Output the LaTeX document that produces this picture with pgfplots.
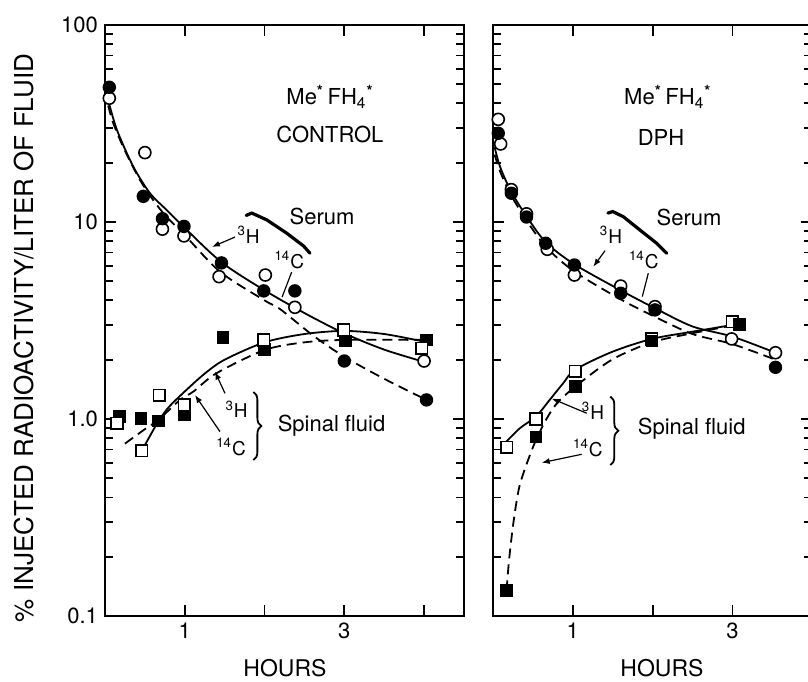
\documentclass[border=0pt]{standalone}
\usepackage{fontspec}
\setmainfont{TeX Gyre Heros}
\usepackage{pgfplots}
\pgfplotsset{compat=1.18}
\usetikzlibrary{arrows.meta,decorations.pathreplacing}
\newcommand{\MeFH}{Me\textsuperscript{\textbf{*}}\,FH\textsubscript{4}\textsuperscript{\textbf{*}}}
\pgfplotsset{
 sol/.style={black, line width=0.9pt, smooth, no marks},
 das/.style={black, line width=0.9pt, smooth, no marks, dash pattern=on 5pt off 3pt},
 fc/.style={only marks, mark=*, mark size=3pt, mark options={draw=black, fill=black, line width=0.7pt}},
 oc/.style={only marks, mark=*, mark size=3pt, mark options={draw=black, fill=white, line width=0.8pt}},
 fs/.style={only marks, mark=square*, mark size=2.9pt, mark options={draw=black, fill=black}},
 os/.style={only marks, mark=square*, mark size=2.9pt, mark options={draw=black, fill=white, line width=0.8pt}},
}
\tikzset{
 lab/.style={font=\fontsize{11}{13}\selectfont},
 iso/.style={font=\fontsize{9.5}{10}\selectfont},
 arr/.style={-{Latex[length=4pt,width=3pt]}, line width=0.6pt},
}
\begin{document}
\begin{tikzpicture}
% ---------------- left panel: CONTROL ----------------
\begin{semilogyaxis}[
  scale only axis, height=295.5pt, width=179.5pt,
  at={(0pt,0pt)}, anchor=south west,
  xmin=0, xmax=4.5, ymin=0.1, ymax=100,
  axis line style={line width=1pt},
  tick style={black, line width=0.9pt},
  tick align=inside,
  major tick length=5.5pt, minor tick length=4pt,
  xtick={1,2,3,4}, xticklabels={1,,3,},
  ytick={0.1,1,10,100}, yticklabels={0.1,1.0,10,100},
  minor ytick={0.2,0.3,0.4,0.5,0.6,0.7,0.8,0.9,2,3,4,5,6,7,8,9,20,30,40,50,60,70,80,90},
  tick label style={font=\fontsize{11}{11}\selectfont},
  clip=false]
\addplot[sol] coordinates {(0.04,41.6) (0.15,29.3) (0.355,19.1) (0.564,14.0) (0.773,11.5) (0.98,9.5) (1.46,6.25) (2.0,4.5) (2.5,3.45) (3.0,2.72) (3.5,2.25) (4.0,1.95)};
\addplot[das] coordinates {(0.04,39) (0.104,31.7) (0.25,23) (0.44,16.3) (0.605,12.9) (0.773,10.6) (0.98,8.76) (1.44,5.6) (2.0,4.0) (2.2,3.6) (2.61,2.65) (3.0,2.07) (3.5,1.6) (4.03,1.25)};
\addplot[black, line width=0.9pt, no marks] coordinates {(0.46,0.69) (0.67,0.98)};
\addplot[sol] coordinates {(0.67,0.98) (0.8,1.15) (1.0,1.38) (1.25,1.7) (1.5,2.0) (2.0,2.45) (2.5,2.7) (3.0,2.8) (3.5,2.7) (4.0,2.47)};
\addplot[das] coordinates {(0.25,0.75) (0.52,0.9) (0.67,0.99) (0.94,1.25) (1.11,1.38) (1.4,1.71) (2.0,2.24) (2.5,2.45) (3.0,2.52) (4.03,2.52)};
\addplot[oc] coordinates {(0.054,42.5) (0.50,22.5) (0.72,9.2) (0.99,8.5) (1.43,5.28) (2.01,5.38) (2.38,3.69) (4.0,1.97)};
\addplot[fc] coordinates {(0.054,48.3) (0.48,13.5) (0.72,10.4) (0.99,9.5) (1.46,6.2) (1.99,4.47) (2.38,4.47) (3.0,1.97) (4.03,1.25)};
\addplot[fs] coordinates {(0.18,1.03) (0.45,1.01) (0.67,0.977) (0.995,1.05) (1.48,2.6) (2.0,2.26) (3.01,2.49) (4.03,2.52)};
\addplot[os] coordinates {(0.15,0.95) (0.46,0.69) (0.68,1.32) (0.995,1.18) (1.99,2.52) (2.99,2.83) (3.97,2.29)};
\node[lab] at (axis cs:2.82,43.1) {\MeFH};
\node[lab] at (axis cs:2.82,27.7) {CONTROL};
\node[lab] at (axis cs:2.72,10.7) {Serum};
\draw[line width=1.6pt, line cap=round] (axis cs:1.77,10.8) -- (axis cs:1.84,11.1) -- (axis cs:2.03,10.24) -- (axis cs:2.28,8.76) -- (axis cs:2.49,7.55) -- (axis cs:2.57,6.94);
\node[iso] at (axis cs:1.80,8.6) {\textsuperscript{3}H};
\draw[arr] (axis cs:1.63,8.39) -- (axis cs:1.34,7.47);
\node[iso] at (axis cs:2.31,6.41) {\textsuperscript{14}C};
\draw[line width=0.6pt] (axis cs:2.34,5.57) -- (axis cs:2.22,4.16);
\node[iso] at (axis cs:1.65,1.12) {\textsuperscript{3}H};
\draw[arr] (axis cs:1.504,1.35) -- (axis cs:1.378,1.74);
\node[iso] at (axis cs:1.58,0.72) {\textsuperscript{14}C};
\draw[arr] (axis cs:1.441,0.863) -- (axis cs:1.128,1.324);
\draw[decorate, decoration={brace, amplitude=4pt}, line width=0.9pt] (axis cs:1.86,1.37) -- (axis cs:1.86,0.619);
\node[lab] at (axis cs:2.84,0.92) {Spinal fluid};
\end{semilogyaxis}
% ---------------- right panel: DPH ----------------
\begin{semilogyaxis}[
  scale only axis, height=295.5pt, width=159.6pt,
  at={(194pt,0pt)}, anchor=south west,
  xmin=0, xmax=4, ymin=0.1, ymax=100,
  axis line style={line width=1pt},
  tick style={black, line width=0.9pt},
  tick align=inside,
  major tick length=5.5pt, minor tick length=4pt,
  xtick={1,2,3}, xticklabels={1,,3},
  ytick={0.1,1,10,100}, yticklabels={},
  minor ytick={0.2,0.3,0.4,0.5,0.6,0.7,0.8,0.9,2,3,4,5,6,7,8,9,20,30,40,50,60,70,80,90},
  tick label style={font=\fontsize{11}{11}\selectfont},
  clip=false]
\addplot[sol] coordinates {(0.02,24) (0.09,19) (0.23,14.2) (0.42,10.7) (0.66,7.9) (1.02,6.1) (1.6,4.5) (2.03,3.65) (2.5,2.95) (3.0,2.62) (3.54,2.17)};
\addplot[das] coordinates {(0.02,22) (0.09,18) (0.23,13.6) (0.42,10.2) (0.66,7.5) (1.02,5.6) (1.6,4.05) (2.03,3.3) (2.5,2.7) (3.0,2.4) (3.54,2.0)};
\addplot[sol] coordinates {(0.17,0.77) (0.34,0.9) (0.54,1.03) (0.71,1.25) (0.88,1.52) (1.03,1.78) (1.49,2.19) (1.99,2.55) (2.49,2.77) (3.0,3.0)};
\addplot[das] coordinates {(0.17,0.135) (0.2,0.19) (0.255,0.296) (0.33,0.453) (0.455,0.644) (0.55,0.8) (0.67,1.0) (0.8,1.2) (1.03,1.46) (1.49,2.0) (1.99,2.45) (2.49,2.72) (3.09,3.03)};
\addplot[oc] coordinates {(0.066,33.2) (0.096,24.9) (0.23,14.6) (0.42,11.0) (0.68,7.27) (1.02,5.38) (1.6,4.73) (2.03,3.72) (2.99,2.55) (3.54,2.17)};
\addplot[fc] coordinates {(0.066,28.2) (0.23,14.0) (0.42,10.6) (0.66,7.8) (1.02,6.05) (1.6,4.35) (2.03,3.58) (3.54,1.83)};
\addplot[os] coordinates {(0.17,0.72) (0.54,1.0) (1.03,1.75) (1.99,2.55) (3.0,3.12)};
\addplot[fs] coordinates {(0.17,0.135) (0.54,0.81) (1.03,1.46) (1.99,2.49) (3.09,3.03)};
\node[lab] at (axis cs:2.19,43.1) {\MeFH};
\node[lab] at (axis cs:2.105,27.0) {DPH};
\node[lab] at (axis cs:2.456,10.6) {Serum};
\draw[line width=1.6pt, line cap=round] (axis cs:1.44,11.1) -- (axis cs:1.5,11.3) -- (axis cs:1.633,10.64) -- (axis cs:1.842,9.10) -- (axis cs:2.051,7.80) -- (axis cs:2.176,6.94);
\node[iso] at (axis cs:1.479,8.59) {\textsuperscript{3}H};
\draw[arr] (axis cs:1.404,7.15) -- (axis cs:1.257,5.93);
\node[iso] at (axis cs:1.89,6.41) {\textsuperscript{14}C};
\draw[line width=0.6pt] (axis cs:1.946,5.49) -- (axis cs:1.871,4.18);
\node[iso] at (axis cs:1.253,1.10) {\textsuperscript{3}H};
\draw[arr] (axis cs:1.174,1.07) -- (axis cs:0.735,1.27);
\node[iso] at (axis cs:1.19,0.713) {\textsuperscript{14}C};
\draw[arr] (axis cs:1.111,0.662) -- (axis cs:0.610,0.600);
\draw[decorate, decoration={brace, amplitude=4pt}, line width=0.9pt] (axis cs:1.47,1.30) -- (axis cs:1.47,0.584);
\node[lab] at (axis cs:2.49,0.89) {Spinal fluid};
\end{semilogyaxis}
\node[rotate=90, font=\fontsize{13}{13}\selectfont] at (-40.5pt,139pt) {\% INJECTED RADIOACTIVITY/LITER OF FLUID};
\node[font=\fontsize{11.5}{12}\selectfont] at (90pt,-26pt) {HOURS};
\node[font=\fontsize{11.5}{12}\selectfont] at (278.5pt,-26pt) {HOURS};
\pgfresetboundingbox
\useasboundingbox (-52.5pt,-32.5pt) rectangle (351.5pt,308pt);
\end{tikzpicture}
\end{document}
